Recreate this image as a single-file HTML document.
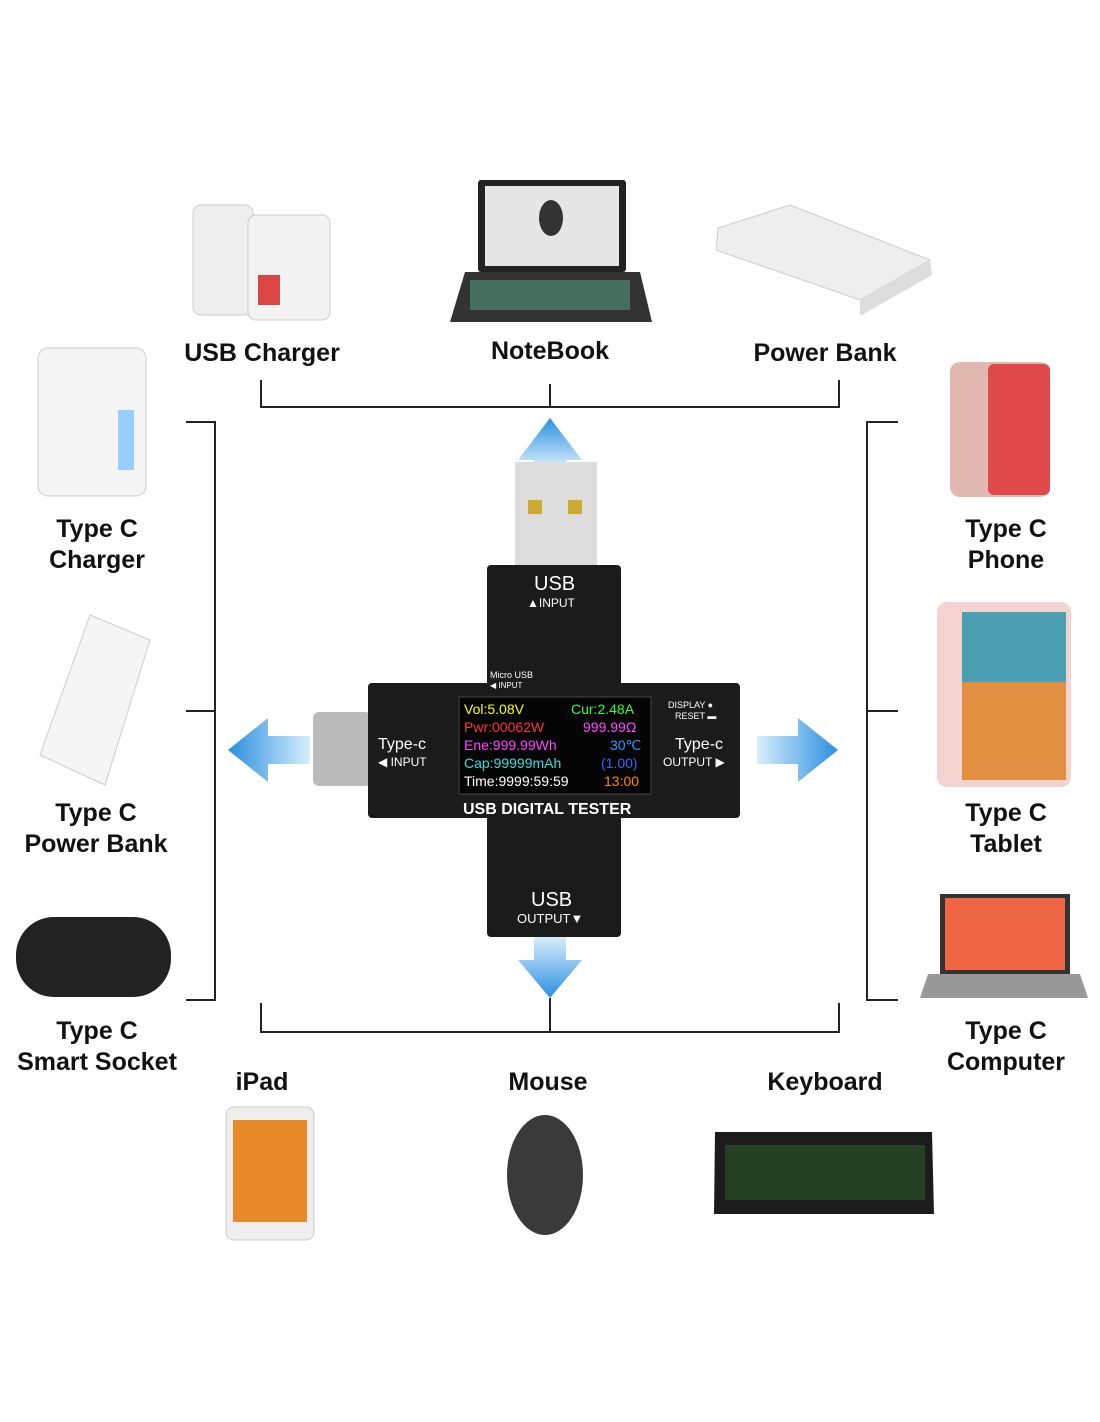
<!DOCTYPE html>
<html><head><meta charset="utf-8"><style>
body{margin:0;width:1100px;height:1422px;background:#fff;position:relative;overflow:hidden;font-family:"Liberation Sans",sans-serif}
.a{position:absolute}
.lbl{position:absolute;font-weight:bold;font-size:25px;color:#111;text-align:center;line-height:31px;transform:translateX(-50%);white-space:nowrap}
.ln{position:absolute;background:#222}
.w{color:#fff;position:absolute;white-space:nowrap}
</style></head><body>
<div class="ln" style="left:260px;top:380px;width:2px;height:28px"></div>
<div class="ln" style="left:838px;top:380px;width:2px;height:28px"></div>
<div class="ln" style="left:260px;top:406px;width:580px;height:2px"></div>
<div class="ln" style="left:549px;top:384px;width:2px;height:24px"></div>
<div class="ln" style="left:260px;top:1003px;width:2px;height:30px"></div>
<div class="ln" style="left:838px;top:1003px;width:2px;height:30px"></div>
<div class="ln" style="left:260px;top:1031px;width:580px;height:2px"></div>
<div class="ln" style="left:549px;top:998px;width:2px;height:34px"></div>
<div class="ln" style="left:214px;top:421px;width:2px;height:580px"></div>
<div class="ln" style="left:186px;top:421px;width:30px;height:2px"></div>
<div class="ln" style="left:186px;top:710px;width:30px;height:2px"></div>
<div class="ln" style="left:186px;top:999px;width:30px;height:2px"></div>
<div class="ln" style="left:866px;top:421px;width:2px;height:580px"></div>
<div class="ln" style="left:866px;top:421px;width:32px;height:2px"></div>
<div class="ln" style="left:866px;top:710px;width:32px;height:2px"></div>
<div class="ln" style="left:866px;top:999px;width:32px;height:2px"></div>

<div class="lbl" style="left:262px;top:338px">USB Charger</div>
<div class="lbl" style="left:550px;top:336px">NoteBook</div>
<div class="lbl" style="left:825px;top:338px">Power Bank</div>
<div class="lbl" style="left:97px;top:514px">Type C<br>Charger</div>
<div class="lbl" style="left:96px;top:798px">Type C<br>Power Bank</div>
<div class="lbl" style="left:97px;top:1016px">Type C<br>Smart Socket</div>
<div class="lbl" style="left:1006px;top:514px">Type C<br>Phone</div>
<div class="lbl" style="left:1006px;top:798px">Type C<br>Tablet</div>
<div class="lbl" style="left:1006px;top:1016px">Type C<br>Computer</div>
<div class="lbl" style="left:262px;top:1067px">iPad</div>
<div class="lbl" style="left:548px;top:1067px">Mouse</div>
<div class="lbl" style="left:825px;top:1067px">Keyboard</div>

<svg class="a" style="left:0;top:0" width="1100" height="1422">
<defs>
<linearGradient id="bv" x1="0" y1="0" x2="0" y2="1"><stop offset="0" stop-color="#2a8fe0"/><stop offset="1" stop-color="#d8eefc"/></linearGradient>
<linearGradient id="bh" x1="0" y1="0" x2="1" y2="0"><stop offset="0" stop-color="#2a8fe0"/><stop offset="1" stop-color="#d8eefc"/></linearGradient>
<linearGradient id="bhr" x1="1" y1="0" x2="0" y2="0"><stop offset="0" stop-color="#2a8fe0"/><stop offset="1" stop-color="#d8eefc"/></linearGradient>
<linearGradient id="bvd" x1="0" y1="1" x2="0" y2="0"><stop offset="0" stop-color="#2a8fe0"/><stop offset="1" stop-color="#d8eefc"/></linearGradient>
</defs>
<rect x="193" y="205" width="60" height="110" rx="8" fill="#eee" stroke="#ccc"/>
<rect x="248" y="215" width="82" height="105" rx="8" fill="#f3f3f3" stroke="#ccc"/>
<rect x="258" y="275" width="22" height="30" fill="#d44"/>
<rect x="478" y="180" width="148" height="92" rx="3" fill="#222"/>
<rect x="485" y="186" width="134" height="80" fill="#e6e6e6"/>
<ellipse cx="551" cy="218" rx="12" ry="18" fill="#333"/>
<polygon points="465,272 640,272 652,322 450,322" fill="#333"/>
<rect x="470" y="280" width="160" height="30" fill="#5a8" opacity=".5"/>
<polygon points="718,228 790,205 930,260 860,300 716,250" fill="#eee" stroke="#ccc"/>
<polygon points="860,300 930,260 932,275 860,316" fill="#ddd"/>
<rect x="38" y="348" width="108" height="148" rx="10" fill="#f4f4f4" stroke="#ccc"/>
<rect x="118" y="410" width="16" height="60" fill="#9cf"/>
<polygon points="40,755 90,615 150,640 105,785" fill="#f5f5f5" stroke="#ccc"/>
<rect x="16" y="917" width="155" height="80" rx="38" fill="#222"/>
<rect x="950" y="362" width="100" height="135" rx="10" fill="#e0b8b0"/>
<rect x="988" y="364" width="62" height="131" rx="6" fill="#e04a4a"/>
<rect x="937" y="602" width="134" height="185" rx="10" fill="#f3d4d0"/>
<rect x="962" y="612" width="104" height="168" fill="#e09040"/>
<rect x="962" y="612" width="104" height="70" fill="#4aa0b0"/>
<rect x="940" y="894" width="130" height="80" fill="#333"/>
<rect x="945" y="898" width="120" height="72" fill="#e64"/>
<polygon points="928,974 1080,974 1088,998 920,998" fill="#999"/>
<rect x="226" y="1107" width="88" height="133" rx="8" fill="#eee" stroke="#ccc"/>
<rect x="233" y="1120" width="74" height="102" fill="#e88a2a"/>
<ellipse cx="545" cy="1175" rx="38" ry="60" fill="#3a3a3a"/>
<polygon points="715,1132 932,1132 934,1214 714,1214" fill="#1c1c1c"/>
<rect x="725" y="1145" width="200" height="55" fill="#2a5a2a" opacity=".6"/>
<polygon points="550,418 582,460 566,460 566,468 534,468 534,460 518,460" fill="url(#bv)"/>
<polygon points="550,998 582,960 566,960 566,937 534,937 534,960 518,960" fill="url(#bvd)"/>
<polygon points="228,750 268,718 268,736 310,736 310,764 268,764 268,782" fill="url(#bh)"/>
<polygon points="838,750 798,718 798,736 757,736 757,764 798,764 798,782" fill="url(#bhr)"/>
<rect x="515" y="462" width="82" height="104" fill="#ddd"/>
<rect x="528" y="500" width="14" height="14" fill="#ca3"/><rect x="568" y="500" width="14" height="14" fill="#ca3"/>
<rect x="313" y="712" width="58" height="74" rx="6" fill="#bbb"/>
<rect x="487" y="565" width="134" height="372" rx="4" fill="#1b1b1b"/>
<rect x="368" y="683" width="372" height="135" rx="4" fill="#1b1b1b"/>
<rect x="459" y="697" width="192" height="97" fill="#050505" stroke="#444"/>
</svg>
<div style="position:absolute;left:0;top:0;font-family:'Liberation Sans',sans-serif">
<div class="w" style="left:534px;top:573px;font-size:20px">USB</div>
<div class="w" style="left:527px;top:596px;font-size:12px">▲INPUT</div>
<div class="w" style="left:490px;top:670px;font-size:9px">Micro USB</div>
<div class="w" style="left:490px;top:681px;font-size:8px">◀ INPUT</div>
<div class="w" style="left:378px;top:736px;font-size:16px">Type-c</div>
<div class="w" style="left:378px;top:755px;font-size:12px">◀ INPUT</div>
<div class="w" style="left:675px;top:736px;font-size:16px">Type-c</div>
<div class="w" style="left:663px;top:755px;font-size:12px">OUTPUT ▶</div>
<div class="w" style="left:668px;top:700px;font-size:9px">DISPLAY ●</div>
<div class="w" style="left:675px;top:711px;font-size:9px">RESET ▬</div>
<div class="w" style="left:463px;top:801px;font-size:16px;font-weight:bold">USB DIGITAL TESTER</div>
<div class="w" style="left:531px;top:889px;font-size:20px">USB</div>
<div class="w" style="left:517px;top:911px;font-size:13px">OUTPUT▼</div>
<div class="w" style="left:464px;top:701px;font-size:14px;color:#ff0">Vol:5.08V</div>
<div class="w" style="left:571px;top:701px;font-size:14px;color:#3f3">Cur:2.48A</div>
<div class="w" style="left:464px;top:719px;font-size:14px;color:#f33">Pwr:00062W</div>
<div class="w" style="left:583px;top:719px;font-size:14px;color:#f4f">999.99Ω</div>
<div class="w" style="left:464px;top:737px;font-size:14px;color:#f4f">Ene:999.99Wh</div>
<div class="w" style="left:610px;top:737px;font-size:14px;color:#39f">30℃</div>
<div class="w" style="left:464px;top:755px;font-size:14px;color:#3dd">Cap:99999mAh</div>
<div class="w" style="left:601px;top:755px;font-size:14px;color:#36f">(1.00)</div>
<div class="w" style="left:464px;top:773px;font-size:14px;color:#fff">Time:9999:59:59</div>
<div class="w" style="left:604px;top:773px;font-size:14px;color:#f80">13:00</div>
</div>
</body></html>
